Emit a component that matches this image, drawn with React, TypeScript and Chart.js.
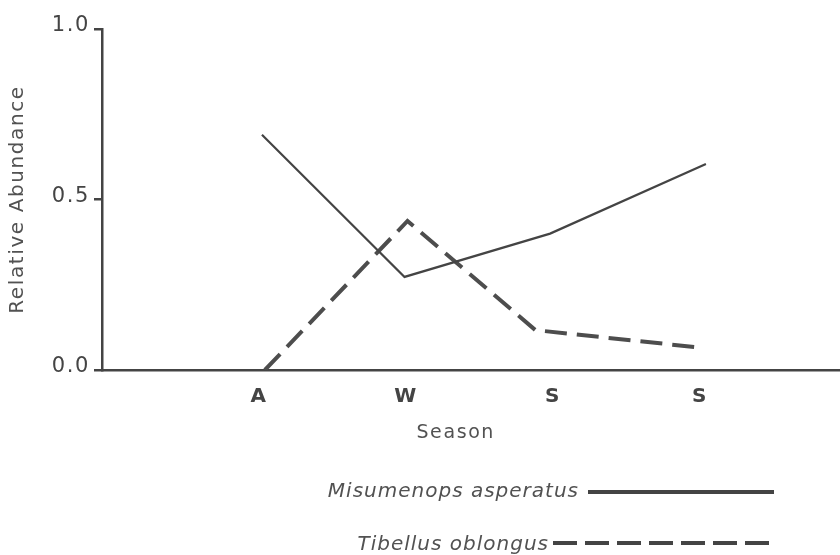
import { useEffect, useRef } from "react";
import { Chart, registerables } from "chart.js";

Chart.register(...registerables);

// ---- data ----
const seasons = ["A", "W", "S", "S"];
const seasonPositions = [1, 2, 3, 4];
const yTickValues = [0, 0.5, 1.0];
const seriesNames = ["Misumenops asperatus", "Tibellus oblongus"];
const misumenopsX = [1.02, 1.99, 2.98, 4.04];
const misumenopsY = [0.69, 0.273, 0.4, 0.604];
const tibellusX = [1.04, 2.01, 2.88, 3.97];
const tibellusY = [0.0, 0.437, 0.117, 0.067];

const FONT = "'DejaVu Sans', Verdana, sans-serif";
const INK = "#444444";
const TEXT = "#525252";

const spacingPlugin = {
  id: "spacing",
  beforeDraw(chart: any) {
    chart.ctx.letterSpacing = "1.6px";
  },
};

const legendPlugin = {
  id: "customLegend",
  afterDraw(chart: any) {
    const ctx = chart.ctx;
    ctx.save();
    ctx.letterSpacing = "1px";
    ctx.font = `oblique 20px ${FONT}`;
    ctx.fillStyle = TEXT;
    ctx.textAlign = "right";
    ctx.textBaseline = "alphabetic";
    ctx.fillText(seriesNames[0], 579, 497);
    ctx.fillText(seriesNames[1], 549, 550);
    ctx.strokeStyle = INK;
    ctx.lineWidth = 4;
    ctx.beginPath();
    ctx.moveTo(588, 492);
    ctx.lineTo(774, 492);
    ctx.stroke();
    ctx.setLineDash([24, 8]);
    ctx.beginPath();
    ctx.moveTo(553, 543);
    ctx.lineTo(774, 543);
    ctx.stroke();
    ctx.restore();
  },
};

export default function App() {
  const ref = useRef<HTMLCanvasElement | null>(null);

  useEffect(() => {
    document.body.style.margin = "0";
    if (!ref.current) return;
    const chart = new Chart(ref.current, {
      type: "line",
      data: {
        datasets: [
          {
            label: seriesNames[0],
            data: misumenopsX.map((x, i) => ({ x, y: misumenopsY[i] })),
            borderColor: INK,
            borderWidth: 2.2,
            pointRadius: 0,
            tension: 0,
          },
          {
            label: seriesNames[1],
            data: tibellusX.map((x, i) => ({ x, y: tibellusY[i] })),
            borderColor: "#4d4d4d",
            borderWidth: 4,
            borderDash: [22, 10],
            pointRadius: 0,
            tension: 0,
          },
        ],
      },
      options: {
        animation: false,
        responsive: false,
        maintainAspectRatio: false,
        layout: { padding: { top: 29, right: 0, bottom: 0, left: 0 } },
        plugins: {
          legend: { display: false },
          tooltip: { enabled: false },
          title: { display: false },
        },
        scales: {
          x: {
            type: "linear",
            min: -0.068,
            max: 4.952,
            afterBuildTicks: (s: any) => {
              s.ticks = seasonPositions.map((v) => ({ value: v }));
            },
            afterFit: (s: any) => {
              s.height = 185;
            },
            ticks: {
              callback: (_v: any, i: number) => seasons[i] ?? "",
              font: { family: FONT, size: 20, weight: "bold" },
              color: INK,
              padding: 15,
              maxRotation: 0,
              autoSkip: false,
            },
            grid: { display: false, drawTicks: false, tickLength: 0 },
            border: { display: true, color: INK, width: 2.5 },
            title: {
              display: true,
              text: "Season    ",
              font: { family: FONT, size: 19 },
              color: TEXT,
              padding: { top: 0, bottom: 111 },
            },
          },
          y: {
            type: "linear",
            min: 0,
            max: 1,
            afterBuildTicks: (s: any) => {
              s.ticks = yTickValues.map((v) => ({ value: v }));
            },
            afterFit: (s: any) => {
              s.width = 102;
            },
            ticks: {
              callback: (v: any) => Number(v).toFixed(1),
              font: { family: FONT, size: 21 },
              color: INK,
              padding: 4,
              labelOffset: -3,
            },
            grid: {
              display: true,
              drawOnChartArea: false,
              drawTicks: true,
              tickLength: 8,
              color: INK,
              lineWidth: 2.5,
            },
            border: { display: true, color: INK, width: 2.5 },
            title: {
              display: true,
              text: "Relative Abundance",
              font: { family: FONT, size: 20 },
              color: TEXT,
              padding: { top: 6, bottom: 0 },
            },
          },
        },
      },
      plugins: [spacingPlugin, legendPlugin],
    } as any);
    return () => chart.destroy();
  }, []);

  return (
    <div style={{ width: 840, height: 555 }}>
      <canvas ref={ref} width={840} height={555} style={{ display: "block" }} />
    </div>
  );
}
